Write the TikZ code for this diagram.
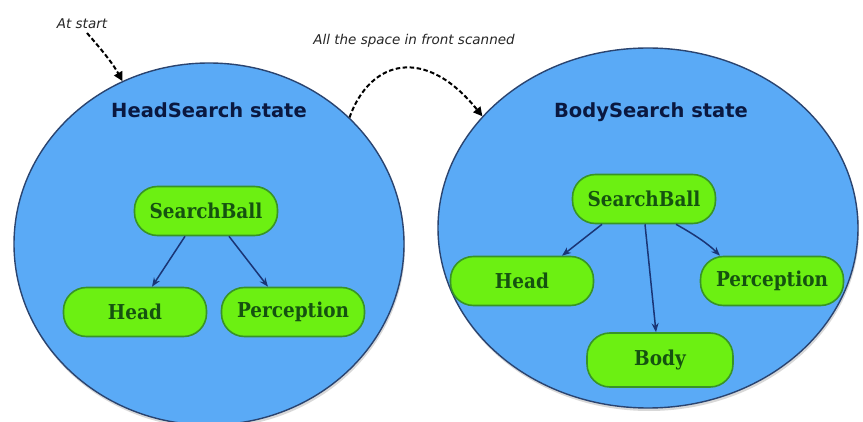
\documentclass[tikz,border=0pt]{standalone}
\usepackage{fontspec}
\setmainfont{DejaVu Sans}
\newfontfamily\nodefont[FakeStretch=0.9]{DejaVu Serif}
\usetikzlibrary{arrows.meta,shapes.geometric,shadows}
\definecolor{ellfill}{HTML}{5AAAF6}
\definecolor{elldraw}{HTML}{2A4470}
\definecolor{titlecol}{HTML}{0A1840}
\definecolor{boxfill}{HTML}{6CF012}
\definecolor{boxdraw}{HTML}{389426}
\definecolor{boxtext}{HTML}{155210}
\definecolor{arrowcol}{HTML}{1A3575}
\begin{document}
\begin{tikzpicture}[x=1pt,y=-1pt,
  statebox/.style={ellipse, fill=ellfill, draw=elldraw, line width=1.4pt, inner sep=0pt,
    drop shadow={opacity=0.3, shadow xshift=1pt, shadow yshift=-3pt}},
  behav/.style={rectangle, rounded corners=23pt, fill=boxfill, draw=boxdraw, line width=1.6pt,
    minimum width=143pt, minimum height=49pt, inner sep=0pt,
    font=\nodefont\bfseries\fontsize{20.5}{24}\selectfont, text=boxtext},
  statetitle/.style={font=\bfseries\fontsize{19.5}{23}\selectfont, text=titlecol},
  lbl/.style={font=\itshape\fontsize{13.5}{16}\selectfont, text=black!85},
  linkarrow/.style={draw=arrowcol, line width=1.5pt, -{Stealth[length=9pt,width=7pt]}},
  transarrow/.style={draw=black, line width=2pt, dash pattern=on 4.5pt off 2.5pt,
    -{Triangle[length=9pt,width=9pt]}}
]
\useasboundingbox (0,0) rectangle (863,422);
\fill[white] (0,0) rectangle (863,422);

\node[statebox, minimum width=390pt, minimum height=362pt] (hs) at (209,244) {};
\node[statebox, minimum width=420pt, minimum height=360pt] (bs) at (648,228) {};

\node[statetitle] (hst) at (209,110) {HeadSearch state};
\node[statetitle] (bst) at (651,112) {BodySearch state};

\node[behav] (sb1) at (206,211) {SearchBall};
\node[behav] (hd1) at (135,312) {Head};
\node[behav] (pc1) at (293,312) {Perception};
\node[behav] (sb2) at (644,199) {SearchBall};
\node[behav] (hd2) at (522,281) {Head};
\node[behav] (pc2) at (772,281) {Perception};
\node[behav, minimum width=146pt, minimum height=54pt] (bd2) at (660,360) {Body};

\draw[linkarrow] ([xshift=-21pt]sb1.south) -- ([xshift=17pt]hd1.north);
\draw[linkarrow] ([xshift=23pt]sb1.south) -- ([xshift=-25pt]pc1.north);
\draw[linkarrow] ([xshift=-42pt]sb2.south) -- ([xshift=40pt]hd2.north);
\draw[linkarrow] ([xshift=1pt]sb2.south) -- ([xshift=-4pt]bd2.north);
\draw[linkarrow] ([xshift=32pt]sb2.south) .. controls +(18,10) and +(-12,-12) .. ([xshift=-52pt]pc2.north);

\node[lbl] (atstart) at (82,24) {At start};
\coordinate (startpt) at (87,33);
\draw[transarrow] (startpt) .. controls (100,48) and (112,62) .. (hs.118);

\node[lbl] (scanned) at (414,41) {All the space in front scanned};
\draw[transarrow] (hs.42) .. controls (370,60) and (425,45) .. (bs.146);
\end{tikzpicture}
\end{document}
